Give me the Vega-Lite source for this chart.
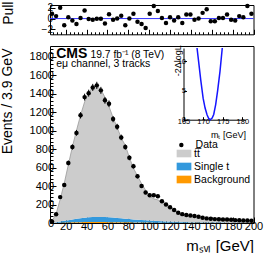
{
  "$schema": "https://vega.github.io/schema/vega-lite/v6.json",
  "padding": {"left": 0, "top": 0, "right": 0, "bottom": 6},
  "config": {
    "font": "Liberation Sans",
    "view": {"stroke": "#000000", "strokeWidth": 1},
    "axis": {"domain": false, "grid": false, "labelColor": "#000", "titleColor": "#000", "tickColor": "#000", "labelFont": "Liberation Sans", "titleFont": "Liberation Sans", "titleFontWeight": "normal", "labelOverlap": false, "labelFlush": false, "tickWidth": 1},
    "legend": {"labelFont": "Liberation Sans", "labelColor": "#000"},
    "text": {"font": "Liberation Sans", "color": "#000"}
  },
  "datasets": {
    "h": [
      {"m": 6.95, "d": 15, "e": 3.9, "p": 0.9, "tt\u0305": 17, "Single t": 2, "Background": 1},
      {"m": 10.85, "d": 95, "e": 9.7, "p": 0.45, "tt\u0305": 92, "Single t": 6, "Background": 2},
      {"m": 14.75, "d": 280, "e": 16.7, "p": 2.0, "tt\u0305": 240, "Single t": 12, "Background": 3},
      {"m": 18.65, "d": 410, "e": 20.2, "p": -1.25, "tt\u0305": 407, "Single t": 18, "Background": 5},
      {"m": 22.55, "d": 650, "e": 25.5, "p": 0.25, "tt\u0305": 599, "Single t": 25, "Background": 6},
      {"m": 26.45, "d": 822, "e": 28.7, "p": -0.35, "tt\u0305": 786, "Single t": 32, "Background": 7},
      {"m": 30.35, "d": 975, "e": 31.2, "p": -1.0, "tt\u0305": 954, "Single t": 38, "Background": 8},
      {"m": 34.25, "d": 1165, "e": 34.1, "p": 0.1, "tt\u0305": 1113, "Single t": 43, "Background": 9},
      {"m": 38.15, "d": 1362, "e": 36.9, "p": 1.5, "tt\u0305": 1252, "Single t": 48, "Background": 10},
      {"m": 42.05, "d": 1405, "e": 37.5, "p": -0.1, "tt\u0305": 1348, "Single t": 52, "Background": 10},
      {"m": 45.95, "d": 1467, "e": 38.3, "p": -0.2, "tt\u0305": 1405, "Single t": 55, "Background": 10},
      {"m": 49.85, "d": 1489, "e": 38.6, "p": -0.05, "tt\u0305": 1419, "Single t": 56, "Background": 10},
      {"m": 53.75, "d": 1435, "e": 37.9, "p": -0.05, "tt\u0305": 1379, "Single t": 56, "Background": 10},
      {"m": 57.65, "d": 1327, "e": 36.4, "p": -0.9, "tt\u0305": 1295, "Single t": 55, "Background": 10},
      {"m": 61.55, "d": 1290, "e": 35.9, "p": 0.8, "tt\u0305": 1198, "Single t": 53, "Background": 9},
      {"m": 65.45, "d": 1124, "e": 33.5, "p": -0.2, "tt\u0305": 1081, "Single t": 50, "Background": 9},
      {"m": 69.35, "d": 1041, "e": 32.3, "p": 0, "tt\u0305": 980, "Single t": 47, "Background": 8},
      {"m": 73.25, "d": 926, "e": 30.4, "p": 0.5, "tt\u0305": 868, "Single t": 44, "Background": 8},
      {"m": 77.15, "d": 822, "e": 28.7, "p": -1.25, "tt\u0305": 793, "Single t": 40, "Background": 7},
      {"m": 81.05, "d": 705, "e": 26.6, "p": 0, "tt\u0305": 666, "Single t": 37, "Background": 7},
      {"m": 84.95, "d": 615, "e": 24.8, "p": 0.9, "tt\u0305": 554, "Single t": 33, "Background": 6},
      {"m": 88.85, "d": 505, "e": 22.5, "p": -0.6, "tt\u0305": 474, "Single t": 30, "Background": 6},
      {"m": 92.75, "d": 400, "e": 20.0, "p": -1.0, "tt\u0305": 393, "Single t": 27, "Background": 5},
      {"m": 96.65, "d": 330, "e": 18.2, "p": -1.75, "tt\u0305": 326, "Single t": 24, "Background": 5},
      {"m": 100.55, "d": 300, "e": 17.3, "p": 0.9, "tt\u0305": 264, "Single t": 21, "Background": 5},
      {"m": 104.45, "d": 300, "e": 17.3, "p": 2.3, "tt\u0305": 239, "Single t": 19, "Background": 4},
      {"m": 108.35, "d": 290, "e": 17.0, "p": 1.4, "tt\u0305": 229, "Single t": 17, "Background": 4},
      {"m": 112.25, "d": 235, "e": 15.3, "p": 0.1, "tt\u0305": 213, "Single t": 15, "Background": 4},
      {"m": 116.15, "d": 200, "e": 14.1, "p": -0.8, "tt\u0305": 189, "Single t": 13, "Background": 3},
      {"m": 120.05, "d": 170, "e": 13.0, "p": 0.25, "tt\u0305": 155, "Single t": 12, "Background": 3},
      {"m": 123.95, "d": 140, "e": 11.8, "p": -0.35, "tt\u0305": 129, "Single t": 11, "Background": 3},
      {"m": 127.85, "d": 112, "e": 10.6, "p": 0.25, "tt\u0305": 103, "Single t": 10, "Background": 3},
      {"m": 131.75, "d": 96, "e": 9.8, "p": -0.8, "tt\u0305": 88, "Single t": 9, "Background": 2},
      {"m": 135.65, "d": 86, "e": 9.3, "p": 0.75, "tt\u0305": 76, "Single t": 8, "Background": 2},
      {"m": 139.55, "d": 80, "e": 8.9, "p": 0.75, "tt\u0305": 69, "Single t": 7, "Background": 2},
      {"m": 143.45, "d": 75, "e": 8.7, "p": -0.2, "tt\u0305": 63, "Single t": 7, "Background": 2},
      {"m": 147.35, "d": 68, "e": 8.2, "p": 0, "tt\u0305": 58, "Single t": 6, "Background": 2},
      {"m": 151.25, "d": 58, "e": 7.6, "p": 1.05, "tt\u0305": 44, "Single t": 6, "Background": 2},
      {"m": 155.15, "d": 50, "e": 7.1, "p": 1.7, "tt\u0305": 38, "Single t": 5, "Background": 2},
      {"m": 159.05, "d": 46, "e": 6.8, "p": -0.5, "tt\u0305": 39, "Single t": 5, "Background": 2},
      {"m": 162.95, "d": 42, "e": 6.5, "p": -0.5, "tt\u0305": 38, "Single t": 4, "Background": 1},
      {"m": 166.85, "d": 40, "e": 6.3, "p": 0.1, "tt\u0305": 35, "Single t": 4, "Background": 1},
      {"m": 170.75, "d": 38, "e": 6.2, "p": 0.1, "tt\u0305": 33, "Single t": 4, "Background": 1},
      {"m": 174.65, "d": 37, "e": 6.1, "p": 0.75, "tt\u0305": 31, "Single t": 3, "Background": 1},
      {"m": 178.55, "d": 34, "e": 5.8, "p": -0.2, "tt\u0305": 29, "Single t": 3, "Background": 1},
      {"m": 182.45, "d": 31, "e": 5.6, "p": -0.35, "tt\u0305": 27, "Single t": 3, "Background": 1},
      {"m": 186.35, "d": 30, "e": 5.5, "p": 0.45, "tt\u0305": 25, "Single t": 3, "Background": 1},
      {"m": 190.25, "d": 28, "e": 5.3, "p": 0.25, "tt\u0305": 24, "Single t": 2, "Background": 1},
      {"m": 194.15, "d": 27, "e": 5.2, "p": 2.3, "tt\u0305": 17, "Single t": 2, "Background": 1},
      {"m": 198.05, "d": 25, "e": 5.0, "p": 0.9, "tt\u0305": 20, "Single t": 2, "Background": 1}
    ],
    "nll": [
      {"mt": 168.45, "v": 12.3}, {"mt": 168.9, "v": 9.7}, {"mt": 169.4, "v": 6.8}, {"mt": 170.0, "v": 3.7},
      {"mt": 170.5, "v": 2.0}, {"mt": 171.0, "v": 0.86}, {"mt": 171.4, "v": 0.25}, {"mt": 171.8, "v": 0.0},
      {"mt": 172.3, "v": 0.3}, {"mt": 172.7, "v": 0.9}, {"mt": 173.2, "v": 2.6}, {"mt": 173.7, "v": 5.0},
      {"mt": 174.3, "v": 8.3}, {"mt": 174.88, "v": 12.3}
    ]
  },
  "spacing": 8,
  "resolve": {"scale": {"x": "independent", "y": "independent", "fill": "independent", "shape": "independent"}},
  "vconcat": [
    {
      "width": 203.5,
      "height": 29.3,
      "resolve": {"axis": {"x": "independent"}},
      "layer": [
        {
          "data": {"values": [{}]},
          "mark": {"type": "rule", "color": "#3333ff", "strokeWidth": 1},
          "encoding": {"y": {"datum": 0, "type": "quantitative", "title": "Pull", "scale": {"domain": [-2.9, 2.5], "nice": false, "zero": false}}}
        },
        {
          "data": {"name": "h"},
          "mark": {"type": "errorbar", "color": "#000", "thickness": 1},
          "encoding": {
            "x": {"field": "m", "type": "quantitative", "title": null, "axis": null},
            "y": {"field": "p", "type": "quantitative", "title": "Pull"},
            "yError": {"value": 1}
          }
        },
        {
          "data": {"name": "h"},
          "mark": {"type": "point", "filled": true, "color": "#000", "size": 20, "opacity": 1},
          "encoding": {
            "x": {"field": "m", "type": "quantitative", "title": null, "scale": {"domain": [5, 200], "nice": false, "zero": false},
                  "axis": {"orient": "bottom", "values": [20, 40, 60, 80, 100, 120, 140, 160, 180, 200], "tickCount": 100, "labels": false, "tickSize": -5, "title": null}},
            "y": {"field": "p", "type": "quantitative", "title": "Pull", "scale": {"domain": [-2.9, 2.5], "nice": false, "zero": false},
                  "axis": {"orient": "left", "values": [-2, 0, 2], "tickCount": 100, "format": "d", "labelOverlap": false, "title": "Pull", "titleFontSize": 14, "labelFontSize": 10, "tickSize": -5, "labelPadding": 2.5, "titleX": -38, "titleY": -4, "titleAlign": "right", "titleBaseline": "alphabetic", "titleAngle": 270}}
          }
        },
        {
          "data": {"values": [{}]},
          "mark": {"type": "point", "opacity": 0},
          "encoding": {
            "x": {"datum": 100, "type": "quantitative", "title": null,
                  "axis": {"orient": "bottom", "values": [8, 12, 16, 24, 28, 32, 36, 44, 48, 52, 56, 64, 68, 72, 76, 84, 88, 92, 96, 104, 108, 112, 116, 124, 128, 132, 136, 144, 148, 152, 156, 164, 168, 172, 176, 184, 188, 192, 196], "tickCount": 100, "labels": false, "tickSize": -2.5, "title": null}},
            "y": {"datum": 0, "type": "quantitative", "title": "Pull"}
          }
        }
      ]
    },
    {
      "width": 203.5,
      "height": 177,
      "resolve": {"scale": {"x": "independent", "y": "independent"}},
      "layer": [
        {
          "data": {"name": "h"},
          "layer": [
            {
              "transform": [{"fold": ["Background", "Single t", "tt\u0305"]}],
              "mark": {"type": "area", "opacity": 1},
              "encoding": {
                "x": {"field": "m", "type": "quantitative", "title": "m\u209b\u1d65\u2097 [GeV]", "scale": {"domain": [5, 200], "nice": false, "zero": false},
                      "axis": {"orient": "bottom", "values": [20, 40, 60, 80, 100, 120, 140, 160, 180, 200], "tickCount": 100, "format": "d", "labelOverlap": false, "title": "m\u209b\u1d65\u2097 [GeV]", "titleFontSize": 15, "labelFontSize": 11, "tickSize": -6, "labelPadding": 3, "titleX": 203.5, "titleY": 27, "titleAlign": "right", "titleBaseline": "alphabetic"}},
                "y": {"field": "value", "type": "quantitative", "title": "Events / 3.9 GeV", "stack": "zero", "scale": {"domain": [0, 1915], "nice": false},
                      "axis": {"orient": "left", "values": [0, 200, 400, 600, 800, 1000, 1200, 1400, 1600, 1800], "tickCount": 100, "format": "d", "labelOverlap": false, "title": "Events / 3.9 GeV", "titleFontSize": 14, "labelFontSize": 11, "tickSize": -6, "labelPadding": 2.5, "titleX": -38.5, "titleY": 2, "titleAlign": "right", "titleBaseline": "alphabetic", "titleAngle": 270}},
                "fill": {"field": "key", "type": "nominal",
                         "scale": {"domain": ["tt\u0305", "Single t", "Background"], "range": ["#cccccc", "#3399dd", "#ff9900"]},
                         "legend": {"title": null, "orient": "none", "legendX": 126.5, "legendY": 100, "symbolType": "M-1,-0.52H1V0.52H-1Z", "symbolSize": 216, "symbolStrokeWidth": 0, "labelFontSize": 10.5, "labelOffset": 2.6, "rowPadding": -4, "padding": 0, "labelLimit": 200}},
                "order": {"field": "key", "sort": "ascending"}
              }
            },
            {
              "transform": [
                {"fold": ["Background", "Single t", "tt\u0305"]},
                {"aggregate": [{"op": "sum", "field": "value", "as": "tot"}], "groupby": ["m"]}
              ],
              "mark": {"type": "line", "color": "#999999", "strokeWidth": 0.8},
              "encoding": {
                "x": {"field": "m", "type": "quantitative", "title": "m\u209b\u1d65\u2097 [GeV]"},
                "y": {"field": "tot", "type": "quantitative", "title": "Events / 3.9 GeV"}
              }
            },
            {
              "mark": {"type": "errorbar", "color": "#000", "thickness": 1},
              "encoding": {
                "x": {"field": "m", "type": "quantitative", "title": "m\u209b\u1d65\u2097 [GeV]"},
                "y": {"field": "d", "type": "quantitative", "title": "Events / 3.9 GeV"},
                "yError": {"field": "e"}
              }
            },
            {
              "mark": {"type": "point", "filled": true, "color": "#000", "size": 20, "opacity": 1},
              "encoding": {
                "x": {"field": "m", "type": "quantitative", "title": "m\u209b\u1d65\u2097 [GeV]"},
                "y": {"field": "d", "type": "quantitative", "title": "Events / 3.9 GeV"},
                "shape": {"datum": "Data", "type": "nominal", "scale": {"range": ["circle"]},
                          "legend": {"title": null, "orient": "none", "legendX": 126.1, "legendY": 93.75, "symbolSize": 20, "symbolFillColor": "#000", "symbolStrokeWidth": 0, "labelFontSize": 10.5, "labelOffset": 9, "padding": 0}}
              }
            },
            {
              "data": {"values": [{}]},
              "mark": {"type": "text", "text": "CMS", "fontWeight": "bold", "fontSize": 14, "align": "left", "baseline": "alphabetic"},
              "encoding": {"x": {"datum": 10.9, "type": "quantitative", "title": "m\u209b\u1d65\u2097 [GeV]"}, "y": {"datum": 1784, "type": "quantitative", "title": "Events / 3.9 GeV"}}
            },
            {
              "data": {"values": [{}]},
              "mark": {"type": "text", "text": "19.7 fb\u207b\u00b9 (8 TeV)", "fontSize": 10.3, "align": "left", "baseline": "alphabetic"},
              "encoding": {"x": {"datum": 43.8, "type": "quantitative", "title": "m\u209b\u1d65\u2097 [GeV]"}, "y": {"datum": 1784, "type": "quantitative", "title": "Events / 3.9 GeV"}}
            },
            {
              "data": {"values": [{}]},
              "mark": {"type": "text", "text": "e\u03bc channel, 3 tracks", "fontSize": 10.5, "align": "left", "baseline": "alphabetic"},
              "encoding": {"x": {"datum": 10.9, "type": "quantitative", "title": "m\u209b\u1d65\u2097 [GeV]"}, "y": {"datum": 1692, "type": "quantitative", "title": "Events / 3.9 GeV"}}
            }
          ]
        },
        {
          "data": {"values": [{}]},
          "mark": {"type": "point", "opacity": 0},
          "encoding": {
            "x": {"datum": 100, "type": "quantitative", "title": null, "scale": {"domain": [5, 200], "nice": false, "zero": false},
                  "axis": {"orient": "bottom", "values": [8, 12, 16, 24, 28, 32, 36, 44, 48, 52, 56, 64, 68, 72, 76, 84, 88, 92, 96, 104, 108, 112, 116, 124, 128, 132, 136, 144, 148, 152, 156, 164, 168, 172, 176, 184, 188, 192, 196], "tickCount": 100, "labels": false, "tickSize": -3, "title": null}},
            "y": {"datum": 100, "type": "quantitative", "title": null, "scale": {"domain": [0, 1915], "nice": false, "zero": false},
                  "axis": {"orient": "left", "values": [40, 80, 120, 160, 240, 280, 320, 360, 440, 480, 520, 560, 640, 680, 720, 760, 840, 880, 920, 960, 1040, 1080, 1120, 1160, 1240, 1280, 1320, 1360, 1440, 1480, 1520, 1560, 1640, 1680, 1720, 1760, 1840, 1880], "tickCount": 100, "labels": false, "tickSize": -3, "title": null}}
          }
        },
        {
          "data": {"name": "nll"},
          "mark": {"type": "line", "color": "#1515ff", "strokeWidth": 1.5},
          "encoding": {
            "x": {"field": "mt", "type": "quantitative", "title": "m\u209c [GeV]", "scale": {"domain": [165, 180.8], "range": [133.5, 195.5], "nice": false, "zero": false},
                  "axis": {"orient": "bottom", "offset": -103.3, "values": [165, 170, 175, 180], "tickCount": 100, "format": "d", "labelOverlap": false, "domain": true, "domainColor": "#000", "domainWidth": 1, "labelFontSize": 7.5, "tickSize": -3, "labelPadding": 1, "title": "m\u209c [GeV]", "titleFontSize": 9, "titleX": 195.5, "titleY": 17.3, "titleAlign": "right", "titleBaseline": "alphabetic"}},
            "y": {"field": "v", "type": "quantitative", "title": "-2\u0394logL", "scale": {"domain": [0, 12.3], "range": [73.7, 2], "nice": false, "zero": false},
                  "axis": {"orient": "left", "offset": -133.5, "values": [0, 5, 10], "tickCount": 100, "format": "d", "labelOverlap": false, "domain": true, "domainColor": "#000", "domainWidth": 1, "labelFontSize": 7.5, "tickSize": -3, "labelPadding": 1, "title": "-2\u0394logL", "titleFontSize": 9, "titleX": -3.3, "titleY": -1.3, "titleAlign": "right", "titleBaseline": "alphabetic", "titleAngle": 270}}
          }
        }
      ]
    }
  ]
}
